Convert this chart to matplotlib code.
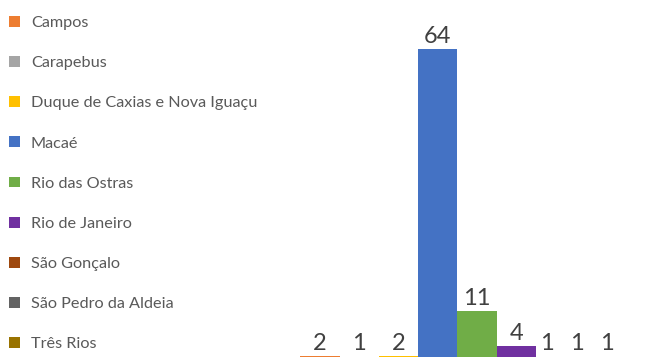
import numpy as np
import matplotlib.pyplot as plt
from matplotlib.patches import Patch

plt.rcParams['font.family'] = ['Lato', 'DejaVu Sans']

# 데이터
cities = ["Campos", "Carapebus", "Duque de Caxias e Nova Iguaçu", "Macaé",
          "Rio das Ostras", "Rio de Janeiro", "São Gonçalo",
          "São Pedro da Aldeia", "Três Rios"]
counts = [2, 1, 2, 64, 11, 4, 1, 1, 1]
colors = ["#ED7D31", "#A5A5A5", "#FFC000", "#4472C4", "#70AD47",
          "#7030A0", "#9E480E", "#636363", "#997300"]

fig = plt.figure(figsize=(6.46, 3.57), dpi=100)
ax = fig.add_axes([0, 0, 1, 1])

x = np.arange(len(counts))
ax.bar(x, counts, width=1.0, color=colors)

# 값 라벨 (오른쪽 끝 라벨은 차트 안으로 밀어 넣음)
label_x = x.astype(float).copy()
right_limit = 7.3
step = 0.76
for i in range(len(label_x) - 1, -1, -1):
    limit = right_limit - (len(label_x) - 1 - i) * step
    if label_x[i] > limit:
        label_x[i] = limit
for xi, v in zip(label_x, counts):
    ax.text(xi, max(v, 1.9) + 0.4, str(v), ha="center", va="bottom",
            fontsize=17, color="#404040")

ax.set_xlim(-8.14, 8.3)
ax.set_ylim(1.7, 73.8)
ax.axis("off")

handles = [Patch(facecolor=c, edgecolor="none") for c in colors]
fig.legend(handles, cities, loc="upper left", bbox_to_anchor=(0.0, 0.98),
           frameon=False, fontsize=11.7, labelcolor="#595959",
           handlelength=0.65, handleheight=0.65, handletextpad=0.7,
           labelspacing=1.6, borderaxespad=0.15)

plt.savefig("out.png", dpi=100)
